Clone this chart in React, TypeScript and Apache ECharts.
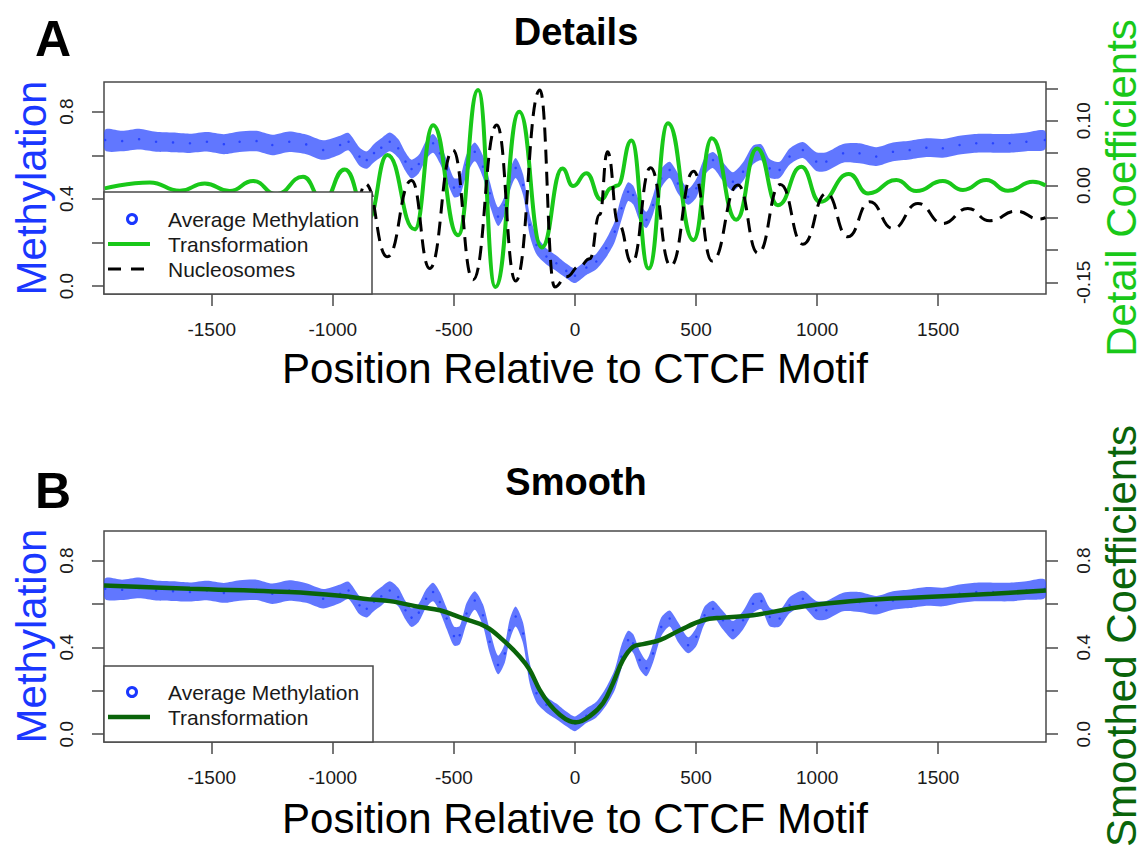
import React, { useEffect, useRef } from 'react';
import * as echarts from 'echarts';

// ---------- data ----------
// Average methylation: band centre and half-thickness of the dense point cloud
const methPos = [-1940, -1870, -1800, -1730, -1660, -1590, -1520, -1450, -1385, -1315, -1250, -1180, -1110, -1040, -970, -935, -890, -860, -830, -800, -765, -730, -700, -675, -645, -615, -586, -558, -530, -500, -476, -448, -414, -380, -352, -318, -290, -270, -245, -214, -187, -159, -118, -77, -36, 0, 47, 88, 129, 164, 192, 219, 240, 267, 295, 322, 356, 391, 425, 467, 501, 535, 570, 611, 652, 694, 735, 770, 804, 845, 886, 941, 996, 1038, 1107, 1175, 1244, 1313, 1382, 1451, 1519, 1588, 1657, 1726, 1795, 1864, 1940];
const methMid = [0.670, 0.665, 0.674, 0.662, 0.659, 0.655, 0.662, 0.651, 0.662, 0.665, 0.647, 0.662, 0.650, 0.624, 0.647, 0.662, 0.594, 0.578, 0.610, 0.635, 0.662, 0.632, 0.571, 0.537, 0.560, 0.624, 0.655, 0.609, 0.533, 0.452, 0.456, 0.556, 0.616, 0.548, 0.426, 0.319, 0.372, 0.479, 0.542, 0.464, 0.281, 0.189, 0.136, 0.105, 0.070, 0.048, 0.085, 0.113, 0.174, 0.250, 0.357, 0.433, 0.418, 0.342, 0.304, 0.372, 0.494, 0.533, 0.471, 0.410, 0.449, 0.548, 0.578, 0.525, 0.479, 0.525, 0.601, 0.613, 0.540, 0.533, 0.594, 0.624, 0.571, 0.571, 0.609, 0.609, 0.594, 0.616, 0.624, 0.635, 0.632, 0.647, 0.655, 0.655, 0.655, 0.662, 0.670];
const methHalf = [0.048, 0.047, 0.048, 0.046, 0.045, 0.044, 0.045, 0.046, 0.047, 0.047, 0.047, 0.047, 0.045, 0.045, 0.043, 0.040, 0.042, 0.040, 0.042, 0.043, 0.043, 0.043, 0.043, 0.043, 0.042, 0.042, 0.043, 0.046, 0.048, 0.044, 0.042, 0.048, 0.043, 0.050, 0.054, 0.043, 0.043, 0.048, 0.046, 0.048, 0.048, 0.043, 0.037, 0.036, 0.034, 0.034, 0.034, 0.036, 0.042, 0.048, 0.054, 0.043, 0.043, 0.043, 0.037, 0.043, 0.043, 0.037, 0.046, 0.037, 0.043, 0.040, 0.037, 0.043, 0.043, 0.043, 0.043, 0.037, 0.043, 0.037, 0.037, 0.037, 0.043, 0.043, 0.043, 0.046, 0.043, 0.043, 0.043, 0.043, 0.043, 0.043, 0.043, 0.043, 0.043, 0.043, 0.043];

// Detail coefficients (panel A, green)
const detailPos = [-1942, -1756, -1632, -1529, -1426, -1329, -1233, -1123, -1040, -951, -854, -775, -662, -586, -483, -400, -329, -230, -137, -52, -8, 47, 108, 150, 175, 233, 304, 384, 489, 565, 666, 752, 838, 935, 1012, 1131, 1210, 1327, 1409, 1519, 1602, 1698, 1788, 1891, 1943];
const detailVal = [-0.0046, 0.0046, -0.0083, 0.003, -0.0088, 0.0067, -0.0135, 0.0133, -0.0243, 0.0248, -0.052, 0.047, -0.068, 0.093, -0.077, 0.1475, -0.157, 0.114, -0.096, 0.026, -0.001, 0.019, -0.022, -0.004, 0.0, 0.0695, -0.1285, 0.096, -0.0847, 0.073, -0.053, 0.057, -0.0305, 0.0288, -0.0254, 0.0175, -0.0124, 0.0082, -0.0088, 0.0067, -0.0072, 0.0082, -0.0083, 0.0057, 0.0];

// Nucleosomes (panel A, dashed black)
const nucPos = [-905, -866, -775, -675, -600, -504, -421, -323, -245, -145, -84, -36, 19, 61, 102, 134, 180, 235, 312, 395, 490, 566, 673, 756, 848, 941, 1038, 1127, 1217, 1313, 1416, 1519, 1622, 1712, 1822, 1918, 1943];
const nucVal = [-0.06, 0.0025, -0.1105, 0.0077, -0.1285, 0.0546, -0.146, 0.0933, -0.148, 0.1475, -0.157, -0.1415, -0.125, -0.1135, -0.045, 0.052, -0.06, -0.12, 0.0275, -0.1245, 0.022, -0.117, 0.0005, -0.105, 0.0015, -0.091, -0.0124, -0.0795, -0.0253, -0.0666, -0.0279, -0.0589, -0.0356, -0.0547, -0.0397, -0.0521, -0.050];

// Smoothed coefficients (panel B, dark green)
const smoothPos = [-1945, -1590, -1180, -970, -848, -765, -641, -558, -462, -366, -297, -228, -187, -146, -104, -63, -22, 6, 61, 116, 157, 198, 240, 281, 350, 433, 529, 611, 735, 886, 1000, 1175, 1451, 1726, 1945];
const smoothVal = [0.685, 0.670, 0.655, 0.638, 0.621, 0.613, 0.586, 0.571, 0.533, 0.494, 0.433, 0.357, 0.296, 0.204, 0.136, 0.090, 0.060, 0.055, 0.083, 0.144, 0.235, 0.342, 0.403, 0.415, 0.433, 0.479, 0.525, 0.537, 0.548, 0.578, 0.597, 0.616, 0.632, 0.647, 0.662];

// Tick values / labels
const xTicks = [-1500, -1000, -500, 0, 500, 1000, 1500];
const methTicks = [0, 0.2, 0.4, 0.6, 0.8];
const methLabels = [0, 0.4, 0.8];
const detailTicks = [-0.15, -0.1, -0.05, 0, 0.05, 0.1, 0.15];
const detailLabels = [-0.15, 0, 0.1];

// ---------- styling ----------
const FONT = '"Liberation Sans", Arial, Helvetica, sans-serif';
const BLUE = '#1a37ff';
const BAND = '#2a48ff';
const GREEN = '#19c819';
const DKGREEN = '#0a640a';
const FRAME = '#4a4a4a';
const TXT = '#1a1a1a';

const xAxisCfg = (g: number) => ({
  type: 'value', gridIndex: g, min: -1945, max: 1945,
  axisLine: { show: false, onZero: false }, splitLine: { show: false },
  axisTick: { show: true, length: 12, lineStyle: { color: FRAME, width: 1.5 }, customValues: xTicks },
  axisLabel: { customValues: xTicks, fontSize: 19, color: TXT, margin: 26, fontFamily: FONT, formatter: (v: number) => String(v) },
});

const yAxisCfg = (g: number, pos: string, min: number, max: number, ticks: number[], labels: number[], digits: number) => ({
  type: 'value', gridIndex: g, position: pos, min, max,
  axisLine: { show: false, onZero: false }, splitLine: { show: false },
  axisTick: { show: true, length: 12, lineStyle: { color: FRAME, width: 1.5 }, customValues: ticks },
  axisLabel: {
    customValues: labels, rotate: 90, fontSize: 19, color: TXT, margin: 28, fontFamily: FONT,
    formatter: (v: number) => v.toFixed(digits),
  },
});

const bandSeries = (xi: number, yi: number) => ({
  type: 'custom', xAxisIndex: xi, yAxisIndex: yi, clip: true, silent: true, z: 1,
  data: [[methPos[0], methMid[0]]],
  renderItem: (_params: any, api: any) => {
    const top = methPos.map((x, i) => api.coord([x, methMid[i] + methHalf[i]]));
    const bot = methPos.map((x, i) => api.coord([x, methMid[i] - methHalf[i]])).reverse();
    return { type: 'polygon', shape: { points: top.concat(bot), smooth: 0.25 }, style: { fill: BAND, opacity: 0.74 } };
  },
});

const scatterSeries = (xi: number, yi: number) => ({
  type: 'scatter', xAxisIndex: xi, yAxisIndex: yi, symbol: 'circle', symbolSize: 2.5, z: 2,
  itemStyle: { color: BLUE }, silent: true,
  data: methPos.map((x, i) => [x, methMid[i]]),
});

const T = (text: string, x: number, y: number, size: number, color: string, opts: any = {}) => ({
  type: 'text', x, y, z: 100, rotation: opts.rot || 0,
  style: {
    text, fill: color, fontSize: size, fontFamily: FONT, fontWeight: opts.bold ? 'bold' : 'normal',
    align: opts.align || 'center', verticalAlign: 'middle',
  },
});

const legendA = [
  { type: 'rect', z: 90, shape: { x: 104, y: 192, width: 268, height: 102 }, style: { fill: '#fff', stroke: FRAME, lineWidth: 1.5 } },
  { type: 'circle', z: 100, shape: { cx: 132, cy: 219, r: 4.5 }, style: { fill: 'none', stroke: BLUE, lineWidth: 3 } },
  { type: 'line', z: 100, shape: { x1: 108, y1: 244, x2: 150, y2: 244 }, style: { stroke: GREEN, lineWidth: 4 } },
  { type: 'line', z: 100, shape: { x1: 108, y1: 269, x2: 150, y2: 269 }, style: { stroke: '#000', lineWidth: 3, lineDash: [13, 10] } },
  T('Average Methylation', 168, 219, 21, TXT, { align: 'left' }),
  T('Transformation', 168, 244, 21, TXT, { align: 'left' }),
  T('Nucleosomes', 168, 269, 21, TXT, { align: 'left' }),
];

const legendB = [
  { type: 'rect', z: 90, shape: { x: 104, y: 666, width: 269, height: 76 }, style: { fill: '#fff', stroke: FRAME, lineWidth: 1.5 } },
  { type: 'circle', z: 100, shape: { cx: 132, cy: 692, r: 4.5 }, style: { fill: 'none', stroke: BLUE, lineWidth: 3 } },
  { type: 'line', z: 100, shape: { x1: 108, y1: 717, x2: 150, y2: 717 }, style: { stroke: DKGREEN, lineWidth: 4.5 } },
  T('Average Methylation', 168, 692, 21, TXT, { align: 'left' }),
  T('Transformation', 168, 717, 21, TXT, { align: 'left' }),
];

const texts = [
  T('A', 53, 39, 50, '#000', { bold: true }),
  T('B', 53, 491, 50, '#000', { bold: true }),
  T('Details', 576, 32, 38, '#000', { bold: true }),
  T('Smooth', 576, 482, 38, '#000', { bold: true }),
  T('Methylation', 31, 188, 42, BLUE, { rot: Math.PI / 2 }),
  T('Methylation', 31, 636, 42, BLUE, { rot: Math.PI / 2 }),
  T('Detail Coefficients', 1121, 188, 42, GREEN, { rot: Math.PI / 2 }),
  T('Smoothed Coefficients', 1121, 636, 42, DKGREEN, { rot: Math.PI / 2 }),
  T('Position Relative to CTCF Motif', 575, 368, 42, '#000'),
  T('Position Relative to CTCF Motif', 575, 818, 42, '#000'),
];

const option: any = {
  animation: false,
  backgroundColor: '#fff',
  grid: [
    { left: 104, top: 82, width: 942, height: 212, show: true, borderColor: FRAME, borderWidth: 1.5, backgroundColor: 'transparent' },
    { left: 104, top: 531, width: 942, height: 211, show: true, borderColor: FRAME, borderWidth: 1.5, backgroundColor: 'transparent' },
  ],
  xAxis: [xAxisCfg(0), xAxisCfg(1)],
  yAxis: [
    yAxisCfg(0, 'left', -0.036, 0.936, methTicks, methLabels, 1),
    yAxisCfg(0, 'right', -0.168, 0.160, detailTicks, detailLabels, 2),
    yAxisCfg(1, 'left', -0.036, 0.936, methTicks, methLabels, 1),
    yAxisCfg(1, 'right', -0.036, 0.936, methTicks, methLabels, 1),
  ],
  series: [
    bandSeries(0, 0),
    scatterSeries(0, 0),
    {
      type: 'line', xAxisIndex: 0, yAxisIndex: 1, showSymbol: false, smooth: 0.5, smoothMonotone: 'x', z: 3,
      lineStyle: { color: GREEN, width: 4 }, silent: true,
      data: detailPos.map((x, i) => [x, detailVal[i]]),
    },
    {
      type: 'line', xAxisIndex: 0, yAxisIndex: 1, showSymbol: false, smooth: 0.5, smoothMonotone: 'x', z: 4,
      lineStyle: { color: '#000', width: 3, type: [14, 8] }, silent: true,
      data: nucPos.map((x, i) => [x, nucVal[i]]),
    },
    bandSeries(1, 2),
    scatterSeries(1, 2),
    {
      type: 'line', xAxisIndex: 1, yAxisIndex: 3, showSymbol: false, smooth: 0.4, z: 3,
      lineStyle: { color: DKGREEN, width: 4.5 }, silent: true,
      data: smoothPos.map((x, i) => [x, smoothVal[i]]),
    },
  ],
  graphic: [...legendA, ...legendB, ...texts],
};

export default function App() {
  const ref = useRef<HTMLDivElement>(null);
  useEffect(() => {
    const chart = echarts.init(ref.current!, null, { renderer: 'svg' });
    chart.setOption(option);
    return () => chart.dispose();
  }, []);
  return <div ref={ref} style={{ position: 'absolute', left: 0, top: 0, width: 1143, height: 851, background: '#fff' }} />;
}
